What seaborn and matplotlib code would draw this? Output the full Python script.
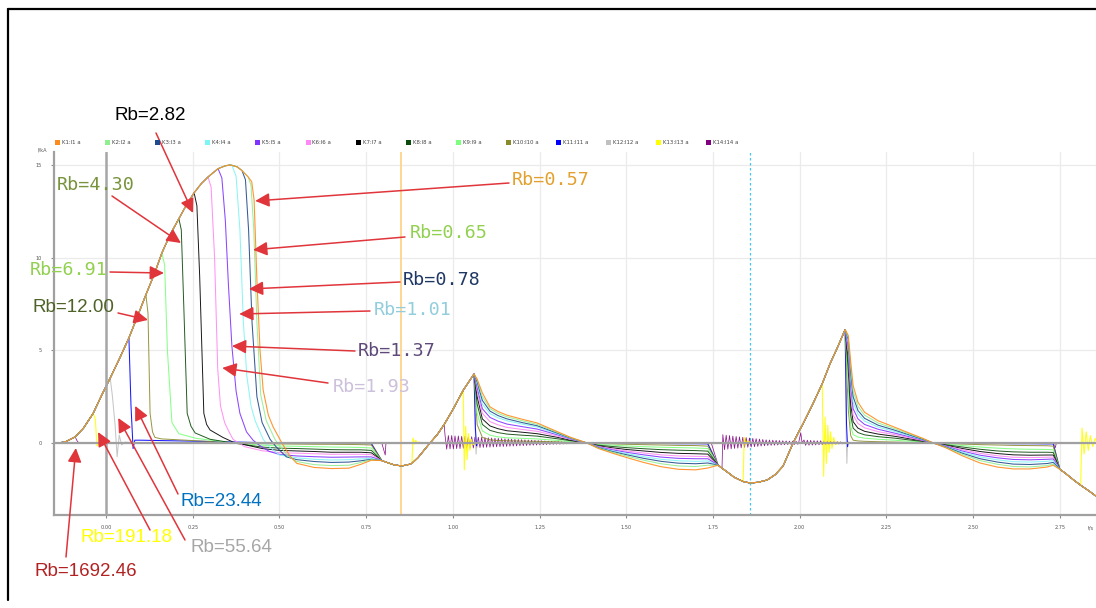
import numpy as np
import matplotlib
matplotlib.use("Agg")
import matplotlib.pyplot as plt
import seaborn as sns
from matplotlib import font_manager
from matplotlib.lines import Line2D
from matplotlib.patches import Rectangle

sns.set_theme(style="white")
plt.rcParams["font.family"] = ["DejaVu Sans"]

W, H, DPI = 1096, 608, 100

# ---------------------------------------------------------------- series
names = ["K1:I1 a", "K2:I2 a", "K3:I3 a", "K4:I4 a", "K5:I5 a", "K6:I6 a", "K7:I7 a",
         "K8:I8 a", "K9:I9 a", "K10:I10 a", "K11:I11 a", "K12:I12 a", "K13:I13 a", "K14:I14 a"]
colors = ["#ff8a1c", "#90ee90", "#1f4a8c", "#7ff4f4", "#8033ff", "#ff88f2", "#000000",
          "#0a4a0a", "#7cff7c", "#8a8a2a", "#0000ff", "#c0c0c0", "#ffff00", "#800080"]
line_w = [0.8, 0.75, 0.75, 0.75, 0.75, 0.75, 0.7, 0.7, 0.75, 0.7, 0.75, 0.75, 0.8, 0.55]

# prospective current: all branches coincide with it while conducting
t_env = [-0.135, -0.115, -0.089, -0.065, -0.037, -0.012, 0.012, 0.04, 0.066, 0.09, 0.115,
         0.14, 0.161, 0.185, 0.21, 0.232, 0.254, 0.275, 0.294, 0.31, 0.323, 0.343, 0.357,
         0.363, 0.378, 0.392, 0.41, 0.42,
         0.795, 0.81, 0.83, 0.853, 0.875, 0.882, 0.9, 0.934, 0.955, 0.975, 1.0, 1.03, 1.061,
         1.765, 1.776, 1.79, 1.811, 1.837, 1.857, 1.88, 1.906, 1.93, 1.952, 1.981, 2.0, 2.01,
         2.039, 2.065, 2.088, 2.11, 2.131,
         2.75, 2.765, 2.79, 2.81, 2.835, 2.855, 2.886]
i_env = [0.0, 0.08, 0.33, 0.8, 1.6, 2.6, 3.5, 4.6, 5.67, 6.8, 8.0,
         9.15, 10.25, 11.25, 12.1, 12.85, 13.5, 14.0, 14.35, 14.6, 14.8, 14.95, 15.0,
         14.98, 14.9, 14.7, 14.35, 14.1,
         -0.95, -1.05, -1.18, -1.24, -1.15, -1.1, -0.78, 0.0, 0.45, 1.0, 1.8, 2.85, 3.72,
         -1.2, -1.36, -1.55, -1.85, -2.08, -2.16, -2.12, -2.0, -1.7, -1.25, 0.0, 0.7, 1.05,
         2.15, 3.2, 4.3, 5.2, 6.12,
         -1.42, -1.62, -2.0, -2.28, -2.6, -2.88, -3.15]

# interruption of the first half-wave (first point = instant of interruption)
drop_t = [
    [0.42, 0.427, 0.435, 0.444, 0.453, 0.468, 0.482, 0.507, 0.53],
    [0.41, 0.418, 0.426, 0.435, 0.446, 0.462, 0.487, 0.5, 0.525],
    [0.392, 0.402, 0.411, 0.421, 0.435, 0.45, 0.473, 0.49, 0.52],
    [0.363, 0.375, 0.386, 0.396, 0.406, 0.418, 0.43, 0.453, 0.47, 0.5],
    [0.323, 0.334, 0.344, 0.353, 0.363, 0.375, 0.386, 0.405, 0.424, 0.44, 0.47, 0.5],
    [0.294, 0.303, 0.313, 0.322, 0.33, 0.342, 0.352, 0.366, 0.4, 0.45, 0.5],
    [0.254, 0.262, 0.27, 0.282, 0.29, 0.3, 0.337, 0.366, 0.45, 0.5],
    [0.21, 0.217, 0.224, 0.234, 0.245, 0.257, 0.3, 0.366, 0.45, 0.5],
    [0.161, 0.169, 0.177, 0.19, 0.21, 0.26, 0.366, 0.45, 0.5],
    [0.115, 0.121, 0.127, 0.134, 0.141, 0.16, 0.2, 0.3, 0.366, 0.45, 0.5],
    [0.066, 0.072, 0.078, 0.083, 0.1, 0.3, 0.5],
    [0.012, 0.018, 0.026, 0.032, 0.038, 0.045, 0.055, 0.08, 0.5],
    [-0.037, -0.031, -0.026, -0.015, 0.5],
    [-0.089, -0.083, -0.078, 0.5],
]
drop_i = [
    [14.1, 13.1, 8.8, 5.0, 2.86, 1.5, 0.86, 0.0, -0.7],
    [14.35, 13.9, 11.5, 6.5, 2.6, 1.2, 0.2, -0.15, -0.7],
    [14.7, 14.2, 11.5, 6.5, 2.5, 1.1, 0.2, -0.2, -0.75],
    [14.98, 14.4, 11.5, 6.5, 3.6, 2.0, 1.2, 0.2, -0.2, -0.65],
    [14.8, 14.3, 12.0, 8.5, 5.2, 2.8, 1.6, 0.6, 0.15, -0.1, -0.45, -0.62],
    [14.35, 13.8, 10.0, 4.0, 2.0, 1.1, 0.7, 0.2, -0.2, -0.42, -0.52],
    [13.5, 12.8, 9.0, 1.6, 1.0, 0.7, 0.3, 0.05, -0.3, -0.4],
    [12.1, 11.5, 7.5, 1.6, 0.9, 0.54, 0.2, 0.0, -0.22, -0.28],
    [10.25, 9.6, 5.0, 1.1, 0.5, 0.25, 0.0, -0.12, -0.16],
    [8.0, 7.0, 1.6, 0.6, 0.3, 0.22, 0.18, 0.08, 0.0, -0.04, -0.05],
    [5.67, 2.0, -0.3, 0.15, 0.15, 0.08, 0.0],
    [3.5, 2.6, 1.0, -0.75, 0.43, -0.1, 0.05, 0.0, 0.0],
    [1.6, 1.3, -0.15, 0.0, 0.0],
    [0.33, 0.1, 0.0, 0.0],
]

# first negative loop
t_fan1 = [0.55, 0.6, 0.65, 0.7, 0.735, 0.765]
fan1 = [
    [-1.1, -1.32, -1.38, -1.36, -1.15, -0.93],
    [-1.0, -1.17, -1.22, -1.2, -1.05, -0.9],
    [-0.9, -1.0, -1.05, -1.03, -0.96, -0.88],
    [-0.8, -0.88, -0.92, -0.9, -0.86, -0.83],
    [-0.7, -0.74, -0.77, -0.76, -0.75, -0.75],
    [-0.55, -0.58, -0.61, -0.61, -0.61, -0.63],
    [-0.43, -0.46, -0.5, -0.5, -0.5, -0.53],
    [-0.3, -0.33, -0.36, -0.37, -0.37, -0.4],
    [-0.18, -0.2, -0.22, -0.23, -0.24, -0.27],
    [-0.06, -0.07, -0.07, -0.08, -0.09, -0.11],
    [-0.02, -0.02, -0.03, -0.03, -0.03, -0.04],
    [0.0, 0.0, 0.0, 0.0, 0.0, 0.0],
    [0.0, 0.0, 0.0, 0.0, 0.0, 0.0],
    [0.0, 0.0, 0.0, 0.0, 0.0, 0.0],
]

# decay after the second current peak
t_tail2 = [1.07, 1.085, 1.107, 1.13, 1.156, 1.2, 1.243, 1.3, 1.34, 1.387]
tail2 = [
    [3.45, 2.7, 1.95, 1.7, 1.5, 1.28, 1.08, 0.62, 0.3, 0.0],
    [3.4, 2.5, 1.85, 1.6, 1.41, 1.2, 1.0, 0.58, 0.28, 0.0],
    [3.3, 2.3, 1.72, 1.48, 1.3, 1.1, 0.93, 0.54, 0.26, 0.0],
    [3.2, 2.1, 1.58, 1.36, 1.2, 1.02, 0.86, 0.5, 0.24, 0.0],
    [3.0, 1.85, 1.38, 1.18, 1.02, 0.88, 0.75, 0.45, 0.22, 0.0],
    [2.8, 1.6, 1.15, 0.98, 0.84, 0.73, 0.63, 0.38, 0.19, 0.0],
    [2.5, 1.3, 0.92, 0.77, 0.66, 0.58, 0.5, 0.31, 0.15, 0.0],
    [2.1, 1.0, 0.68, 0.56, 0.48, 0.42, 0.37, 0.23, 0.12, 0.0],
    [1.6, 0.65, 0.42, 0.33, 0.28, 0.25, 0.22, 0.14, 0.07, 0.0],
    [1.0, 0.3, 0.17, 0.13, 0.12, 0.1, 0.09, 0.06, 0.03, 0.0],
    [0.03, 0.02, 0.02, 0.01, 0.01, 0.01, 0.0, 0.0, 0.0, 0.0],
    [0.0, 0.0, 0.0, 0.0, 0.0, 0.0, 0.0, 0.0, 0.0, 0.0],
    [0.0, 0.0, 0.0, 0.0, 0.0, 0.0, 0.0, 0.0, 0.0, 0.0],
    [0.0, 0.0, 0.0, 0.0, 0.0, 0.0, 0.0, 0.0, 0.0, 0.0],
]

# second negative loop
t_fan2 = [1.42, 1.46, 1.5, 1.55, 1.6, 1.65, 1.7, 1.735]
fan2 = [
    [-0.3, -0.55, -0.78, -1.05, -1.28, -1.42, -1.45, -1.35],
    [-0.28, -0.5, -0.7, -0.93, -1.12, -1.24, -1.27, -1.2],
    [-0.26, -0.46, -0.63, -0.83, -0.99, -1.09, -1.12, -1.08],
    [-0.24, -0.42, -0.57, -0.74, -0.88, -0.96, -0.99, -0.97],
    [-0.22, -0.37, -0.5, -0.64, -0.76, -0.83, -0.85, -0.85],
    [-0.19, -0.32, -0.43, -0.54, -0.64, -0.7, -0.72, -0.73],
    [-0.16, -0.26, -0.35, -0.43, -0.51, -0.56, -0.58, -0.6],
    [-0.12, -0.19, -0.25, -0.31, -0.36, -0.39, -0.41, -0.44],
    [-0.08, -0.12, -0.16, -0.2, -0.23, -0.25, -0.27, -0.3],
    [-0.03, -0.05, -0.07, -0.09, -0.11, -0.13, -0.14, -0.17],
    [-0.01, -0.02, -0.02, -0.03, -0.03, -0.04, -0.04, -0.05],
    [0.0, 0.0, 0.0, 0.0, 0.0, 0.0, 0.0, 0.0],
    [0.0, 0.0, 0.0, 0.0, 0.0, 0.0, 0.0, 0.0],
    [0.0, 0.0, 0.0, 0.0, 0.0, 0.0, 0.0, 0.0],
]

# decay after the third current peak
t_tail3 = [2.14, 2.147, 2.154, 2.168, 2.187, 2.226, 2.274, 2.322, 2.355, 2.385]
tail3 = [
    [5.8, 4.4, 3.1, 2.2, 1.66, 1.2, 0.85, 0.49, 0.25, 0.0],
    [5.7, 4.1, 2.8, 1.98, 1.5, 1.08, 0.77, 0.45, 0.23, 0.0],
    [5.6, 3.8, 2.5, 1.75, 1.33, 0.96, 0.69, 0.4, 0.2, 0.0],
    [5.45, 3.5, 2.2, 1.55, 1.18, 0.86, 0.62, 0.36, 0.18, 0.0],
    [5.2, 3.1, 1.85, 1.3, 1.0, 0.74, 0.53, 0.31, 0.16, 0.0],
    [4.9, 2.6, 1.5, 1.05, 0.82, 0.61, 0.45, 0.26, 0.13, 0.0],
    [4.5, 2.1, 1.15, 0.8, 0.63, 0.48, 0.36, 0.21, 0.11, 0.0],
    [3.9, 1.5, 0.8, 0.56, 0.44, 0.34, 0.26, 0.15, 0.08, 0.0],
    [3.0, 0.9, 0.45, 0.32, 0.26, 0.2, 0.15, 0.09, 0.05, 0.0],
    [1.8, 0.4, 0.15, 0.11, 0.09, 0.07, 0.05, 0.03, 0.02, 0.0],
    [0.03, 0.02, 0.02, 0.01, 0.01, 0.01, 0.0, 0.0, 0.0, 0.0],
    [0.0, 0.0, 0.0, 0.0, 0.0, 0.0, 0.0, 0.0, 0.0, 0.0],
    [0.0, 0.0, 0.0, 0.0, 0.0, 0.0, 0.0, 0.0, 0.0, 0.0],
    [0.0, 0.0, 0.0, 0.0, 0.0, 0.0, 0.0, 0.0, 0.0, 0.0],
]

# third negative loop
t_fan3 = [2.42, 2.47, 2.52, 2.57, 2.616, 2.664, 2.713, 2.731]
fan3 = [
    [-0.25, -0.7, -1.08, -1.3, -1.4, -1.4, -1.3, -1.2],
    [-0.23, -0.62, -0.95, -1.15, -1.27, -1.29, -1.22, -1.14],
    [-0.21, -0.56, -0.85, -1.03, -1.14, -1.16, -1.11, -1.05],
    [-0.19, -0.5, -0.75, -0.91, -1.01, -1.03, -0.99, -0.95],
    [-0.17, -0.44, -0.66, -0.8, -0.89, -0.91, -0.88, -0.86],
    [-0.15, -0.37, -0.56, -0.69, -0.77, -0.79, -0.77, -0.76],
    [-0.12, -0.3, -0.46, -0.57, -0.64, -0.66, -0.65, -0.65],
    [-0.09, -0.22, -0.34, -0.43, -0.48, -0.5, -0.5, -0.51],
    [-0.06, -0.14, -0.22, -0.28, -0.32, -0.34, -0.35, -0.37],
    [-0.03, -0.06, -0.09, -0.11, -0.13, -0.14, -0.15, -0.17],
    [-0.01, -0.02, -0.03, -0.03, -0.04, -0.04, -0.05, -0.05],
    [0.0, 0.0, 0.0, 0.0, 0.0, 0.0, 0.0, 0.0],
    [0.0, 0.0, 0.0, 0.0, 0.0, 0.0, 0.0, 0.0],
    [0.0, 0.0, 0.0, 0.0, 0.0, 0.0, 0.0, 0.0],
]

# re-interruptions of the high-resistance branches
k11_ring2_t, k11_ring2_i = [1.065, 1.068], [0.8, -0.15]
k11_ring3_t, k11_ring3_i = [2.135, 2.138], [1.0, -0.2]
k12_ring2_t, k12_ring2_i = [1.064, 1.067, 1.069], [1.0, -0.6, 0.1]
k12_ring3_t, k12_ring3_i = [2.134, 2.136, 2.138], [0.5, -1.1, 0.1]

k13_ring1_t = [0.885, 0.889, 0.893, 0.897, 0.902, 0.91, 0.933]
k13_ring1_i = [0.27, -0.05, 0.15, -0.02, 0.05, 0.0, 0.0]
k13_ring2_t = [1.033, 1.037, 1.041, 1.045, 1.049, 1.053, 1.058, 1.065]
k13_ring2_i = [-1.45, 0.9, -0.9, 0.5, -0.4, 0.2, -0.1, 0.0]
k13_ring3_t = [1.84, 1.845, 1.85, 1.856, 1.98]
k13_ring3_i = [0.3, -0.1, 0.12, 0.0, 0.0]
k13_ring4_t = [2.069, 2.073, 2.077, 2.081, 2.085, 2.089, 2.093, 2.098, 2.104, 2.11, 2.12]
k13_ring4_i = [-1.8, 1.4, -1.1, 0.95, -0.5, 0.6, -0.3, 0.3, -0.1, 0.05, 0.0]
k13_ring5_t = [2.814, 2.82, 2.826, 2.832, 2.838, 2.845, 2.852, 2.86, 2.87, 2.886]
k13_ring5_i = [0.8, -0.6, 0.6, -0.4, 0.4, -0.2, 0.25, -0.1, 0.1, 0.0]

k14_dip1_t, k14_dip1_i = [0.795, 0.805, 0.807, 0.933], [0.0, -0.65, 0.0, 0.0]
k14_join2_t, k14_join2_i = [1.745], [0.0]
k14_spike_t, k14_spike_i = [2.003, 2.007], [0.55, 0.0]
k14_dip2_t, k14_dip2_i = [2.737, 2.74, 2.886], [-0.25, 0.0, 0.0]
ring_period = 0.0096
k14_burst1 = [0.42, 0.4, 0.4, 0.38, 0.38, 0.36, 0.36, 0.34, 0.34, 0.32, 0.31, 0.3, 0.29,
              0.28, 0.27, 0.26, 0.25, 0.24, 0.23, 0.22, 0.21, 0.2, 0.19, 0.18, 0.17, 0.16,
              0.15, 0.14, 0.13, 0.12, 0.11, 0.1, 0.09, 0.08, 0.08, 0.07, 0.06, 0.05, 0.05,
              0.04, 0.03, 0.03]
k14_burst2 = [0.45, 0.42, 0.4, 0.37, 0.35, 0.33, 0.31, 0.29, 0.27, 0.25, 0.23, 0.21, 0.19,
              0.17, 0.16, 0.15, 0.14, 0.13, 0.12, 0.11, 0.1, 0.1, 0.09]
k14_burst3 = [0.16, 0.15, 0.14, 0.13, 0.12, 0.12, 0.11, 0.1, 0.09, 0.08, 0.07, 0.06]

# ---------------------------------------------------------------- annotations
rb_text = ["Rb=0.57", "Rb=0.65", "Rb=0.78", "Rb=1.01", "Rb=1.37", "Rb=1.93", "Rb=2.82",
           "Rb=4.30", "Rb=6.91", "Rb=12.00", "Rb=23.44", "Rb=55.64", "Rb=191.18", "Rb=1692.46"]
rb_color = ["#E3A02E", "#92D050", "#1F3864", "#92CDDC", "#5F497A", "#CCC0DA", "#000000",
            "#77933C", "#92D050", "#4F6228", "#0070C0", "#A6A6A6", "#FFFF00", "#B22222"]
rb_mono = [True, True, True, True, True, True, False, True, True, False, False, False, False, False]
rb_text_px = [(512, 180), (410, 233), (403, 280), (374, 310), (358, 351), (333, 387),
              (115, 115), (57, 185), (30, 270), (33, 308), (180, 501), (190, 547),
              (80, 537), (35, 572)]
rb_arrow_px = [(509, 183), (405, 237), (400, 282), (370, 311), (355, 351), (328, 383),
               (156, 133), (112, 196), (110, 272), (118, 313), (178, 494), (185, 540),
               (150, 530), (66, 557)]
rb_tip_t = [0.430, 0.424, 0.412, 0.384, 0.363, 0.335, 0.251, 0.216, 0.167, 0.121,
            0.084, 0.035, -0.023, -0.087]
rb_tip_i = [13.06, 10.42, 8.31, 6.96, 5.23, 4.05, 12.41, 10.79, 9.17, 6.64,
            2.0, 1.35, 0.59, -0.27]

x_ticks = [0.0, 0.25, 0.5, 0.75, 1.0, 1.25, 1.5, 1.75, 2.0, 2.25, 2.5, 2.75]
y_ticks = [0, 5, 10, 15]


# ---------------------------------------------------------------- assembly
te_arr, ie_arr = np.asarray(t_env), np.asarray(i_env)


def env(t0, t1):
    m = (te_arr >= t0 - 1e-9) & (te_arr <= t1 + 1e-9)
    return list(te_arr[m]), list(ie_arr[m])


def burst(t0, amps):
    ts, vs = [], []
    for j, a in enumerate(amps):
        ts += [t0 + (j + 0.25) * ring_period, t0 + (j + 0.75) * ring_period]
        vs += [a, -0.8 * a]
    ts.append(t0 + len(amps) * ring_period)
    vs.append(0.0)
    return ts, vs


def start(k):
    return [env(-1.0, drop_t[k][0]), (drop_t[k][1:], drop_i[k][1:]), (t_fan1, fan1[k])]


pieces = {}
for k in range(10):
    pieces[k] = start(k) + [
        env(0.795, 1.061), (t_tail2, tail2[k]), (t_fan2, fan2[k]),
        env(1.765, 2.131), (t_tail3, tail3[k]), (t_fan3, fan3[k]), env(2.75, 2.886)]
pieces[10] = start(10) + [
    env(0.795, 1.061), (k11_ring2_t, k11_ring2_i), (t_tail2, tail2[10]), (t_fan2, fan2[10]),
    env(1.765, 2.131), (k11_ring3_t, k11_ring3_i), (t_tail3, tail3[10]), (t_fan3, fan3[10]),
    env(2.75, 2.886)]
pieces[11] = start(11) + [
    env(0.795, 1.061), (k12_ring2_t, k12_ring2_i), (t_tail2, tail2[11]), (t_fan2, fan2[11]),
    env(1.765, 2.131), (k12_ring3_t, k12_ring3_i), (t_tail3, tail3[11]), (t_fan3, fan3[11]),
    env(2.75, 2.886)]
pieces[12] = start(12) + [
    env(0.795, 0.882), (k13_ring1_t, k13_ring1_i), env(0.934, 1.03), (k13_ring2_t, k13_ring2_i),
    (t_tail2, tail2[12]), (t_fan2, fan2[12]), env(1.765, 1.837), (k13_ring3_t, k13_ring3_i),
    env(1.981, 2.065), (k13_ring4_t, k13_ring4_i), (t_tail3, tail3[12]), (t_fan3, fan3[12]),
    env(2.75, 2.81), (k13_ring5_t, k13_ring5_i)]
pieces[13] = start(13) + [
    (k14_dip1_t, k14_dip1_i), env(0.934, 0.975), burst(0.975, k14_burst1),
    (t_fan2, fan2[13]), (k14_join2_t, k14_join2_i), env(1.765, 1.776),
    burst(1.776, k14_burst2), (k14_spike_t, k14_spike_i), burst(2.01, k14_burst3),
    (t_tail3, tail3[13]), (t_fan3, fan3[13]), (k14_dip2_t, k14_dip2_i)]

# ---------------------------------------------------------------- figure
fig = plt.figure(figsize=(W / DPI, H / DPI), dpi=DPI, facecolor="white")
ax = fig.add_axes([54 / W, 1 - 515 / H, (1107 - 54) / W, (515 - 152) / H])
ax.set_xlim(-0.15, 2.886)
ax.set_ylim(-3.886, 15.70)

for k in range(13, -1, -1):
    ts, vs = [], []
    for pt, pv in pieces[k]:
        ts += list(pt)
        vs += list(pv)
    sns.lineplot(x=np.asarray(ts, float), y=np.asarray(vs, float), ax=ax, color=colors[k],
                 lw=line_w[k], alpha=0.9, sort=False, estimator=None, errorbar=None,
                 legend=False, zorder=2)

ax.axhline(0, color="#a0a0a0", lw=1.6, zorder=2.6)
ax.axvline(0, color="#a6a6a6", lw=1.8, zorder=2.6)
ax.axvline(0.85, color="#ffd38a", lw=1.3, zorder=1.8)
ax.axvline(1.857, color="#45c4f2", lw=0.9, ls=(0, (2, 2)), zorder=1.8)

ax.set_xticks(x_ticks)
ax.set_xticklabels([f"{v:.2f}" for v in x_ticks])
ax.set_yticks(y_ticks)
ax.set_yticklabels([str(v) for v in y_ticks])
ax.tick_params(axis="both", labelsize=3.6, colors="#8c8c8c", labelcolor="#555555",
               length=2.5, width=0.8, pad=3, direction="out")
ax.tick_params(axis="x", bottom=True, pad=5)
ax.tick_params(axis="y", left=True, pad=6)
ax.grid(True, color="#ebebeb", lw=0.9, zorder=0)
ax.set_axisbelow(True)
for side in ("top", "right"):
    ax.spines[side].set_visible(False)
for side in ("left", "bottom"):
    ax.spines[side].set_color("#a0a0a0")
    ax.spines[side].set_linewidth(1.6)
ax.set_xlabel("")
ax.set_ylabel("")
fig.text(38 / W, 1 - 150 / H, "I/kA", fontsize=3.6, color="#555555", va="center", ha="left")
fig.text(1088 / W, 1 - 528 / H, "t/s", fontsize=3.6, color="#555555", va="center", ha="left")

# legend row
for k, name in enumerate(names):
    x0 = 55 + 50.1 * k
    fig.patches.append(Rectangle((x0 / W, 1 - 145 / H), 5 / W, 5 / H, transform=fig.transFigure,
                                 facecolor=colors[k], edgecolor="none"))
    fig.text((x0 + 7) / W, 1 - 142.5 / H, name, fontsize=3.9, color="#444444",
             va="center", ha="left")

# outer frame
fig.add_artist(Line2D([8 / W, 8 / W], [1 - 9 / H, 1 - 600 / H], color="black", lw=1.6,
                      transform=fig.transFigure))
fig.add_artist(Line2D([8 / W, 1.0], [1 - 9 / H, 1 - 9 / H], color="black", lw=1.6,
                      transform=fig.transFigure))

# Rb labels with arrows
avail = {f.name for f in font_manager.fontManager.ttflist}
prop_family = "Liberation Sans Narrow" if "Liberation Sans Narrow" in avail else "Liberation Sans"
prop_size = 15.5 if prop_family == "Liberation Sans Narrow" else 13.5
for k in range(14):
    tx, ty = rb_text_px[k]
    if rb_mono[k]:
        fam, size = "DejaVu Sans Mono", 13.2
    else:
        fam, size = prop_family, prop_size
    fig.text(tx / W, 1 - ty / H, rb_text[k], color=rb_color[k], fontsize=size,
             family=fam, ha="left", va="center")
    ax_x, ax_y = rb_arrow_px[k]
    ax.annotate("", xy=(rb_tip_t[k], rb_tip_i[k]), xycoords="data",
                xytext=(ax_x, H - ax_y), textcoords="figure pixels",
                arrowprops=dict(arrowstyle="-|>,head_length=0.45,head_width=0.22",
                                color="#e0353b", lw=1.1,
                                mutation_scale=19, shrinkA=0, shrinkB=0),
                annotation_clip=False, zorder=5)

fig.savefig("out.png", dpi=DPI, facecolor="white")
